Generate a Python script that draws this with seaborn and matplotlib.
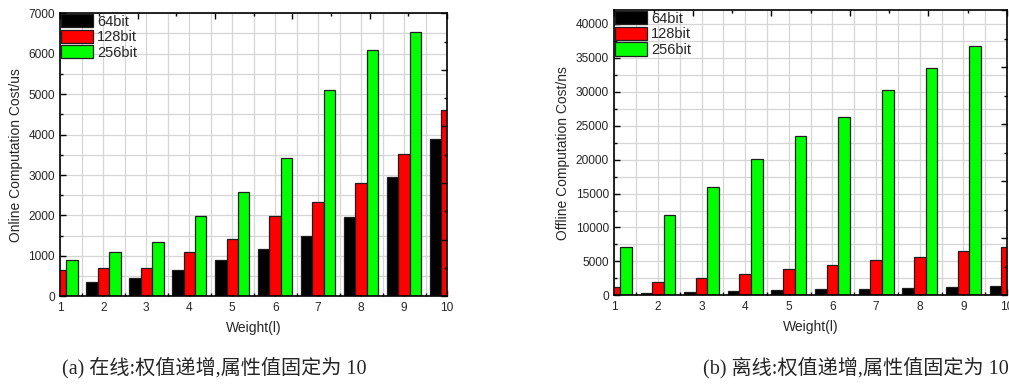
import numpy as np
import pandas as pd
import matplotlib
matplotlib.use('Agg')
import matplotlib.pyplot as plt
from matplotlib.patches import Patch
from matplotlib.ticker import MultipleLocator
import seaborn as sns

# ── data ──────────────────────────────────────────────────
weights = [1, 2, 3, 4, 5, 6, 7, 8, 9, 10]
bit_labels = ['64bit', '128bit', '256bit']

online_64 = [250, 350, 450, 650, 900, 1170, 1490, 1960, 2950, 3900]
online_128 = [640, 690, 700, 1100, 1410, 1980, 2320, 2800, 3530, 4600]
online_256 = [890, 1090, 1350, 1990, 2580, 3420, 5100, 6090, 6540, 7300]

offline_64 = [200, 350, 490, 640, 790, 890, 985, 1130, 1280, 1430]
offline_128 = [1280, 1970, 2610, 3200, 3940, 4480, 5170, 5710, 6500, 7090]
offline_256 = [7140, 11810, 15900, 20130, 23430, 26280, 30220, 33560, 36760, 40000]

captions = ['(a) 在线:权值递增,属性值固定为 10', '(b) 离线:权值递增,属性值固定为 10']

COLORS = ['#000000', '#ff0000', '#00ff00']


def long_frame(series):
    rows = []
    for lab, vals in zip(bit_labels, series):
        for w, v in zip(weights, vals):
            rows.append({'weight': w, 'cost': v, 'bits': lab})
    return pd.DataFrame(rows)


sns.set_style('white')
plt.rcParams['font.family'] = ['Liberation Sans', 'DejaVu Sans']

fig = plt.figure(figsize=(10.09, 3.85), dpi=100)
ax1 = fig.add_axes([0.0599, 0.2304, 0.3831, 0.7351])
ax2 = fig.add_axes([0.6089, 0.2330, 0.3891, 0.7400])

panels = [
    (ax1, [online_64, online_128, online_256], 7000, 1000, 500, 'Online Computation Cost/us'),
    (ax2, [offline_64, offline_128, offline_256], 42000, 5000, 2500, 'Offline Computation Cost/ns'),
]

for ax, series, ytop, ymaj, ymin, ylab in panels:
    df = long_frame(series)
    sns.barplot(data=df, x='weight', y='cost', hue='bits', native_scale=True,
                palette=COLORS, hue_order=bit_labels, edgecolor='#1e1e1e',
                linewidth=0.9, saturation=1, ax=ax, legend=False, errorbar=None)
    ax.set_xlim(1, 10)
    ax.set_ylim(0, ytop)
    ax.xaxis.set_major_locator(MultipleLocator(1))
    ax.xaxis.set_minor_locator(MultipleLocator(0.5))
    ax.yaxis.set_major_locator(MultipleLocator(ymaj))
    ax.yaxis.set_minor_locator(MultipleLocator(ymin))
    ax.grid(which='both', color='#d6d6d6', linewidth=0.9)
    ax.set_axisbelow(True)
    ax.tick_params(which='both', direction='in', top=False, right=False,
                   labelsize=8.6, pad=4, color='black')
    ax.tick_params(which='major', length=4, width=1)
    ax.tick_params(which='minor', length=2.5, width=1)
    for sp in ax.spines.values():
        sp.set_color('black')
        sp.set_linewidth(1.2)
    ax.set_xlabel('Weight(l)', fontsize=10, labelpad=5)
    ax.set_ylabel(ylab, fontsize=10, labelpad=4)

    handles = [Patch(facecolor=c, edgecolor='#1e1e1e', linewidth=0.9) for c in COLORS]
    ax.legend(handles, bit_labels, loc='upper left', frameon=False, fontsize=10.5,
              borderaxespad=0, borderpad=0.05, handlelength=2.2, handleheight=1.0,
              labelspacing=0.08, handletextpad=0.25)

    # opposite axes: Origin-style 0..10 ticks, no labels
    tr = ax.twinx()
    tr.set_ylim(0, 10)
    tr.yaxis.set_major_locator(MultipleLocator(2))
    tr.yaxis.set_minor_locator(MultipleLocator(1))
    tr.tick_params(which='both', direction='in', right=True, left=False,
                   labelright=False, color='black', width=1)
    tr.tick_params(which='major', length=4)
    tr.tick_params(which='minor', length=2.5)
    tr.grid(False)
    tt = ax.twiny()
    tt.set_xlim(0, 10)
    tt.xaxis.set_major_locator(MultipleLocator(2))
    tt.xaxis.set_minor_locator(MultipleLocator(1))
    tt.tick_params(which='both', direction='in', top=True, bottom=False,
                   labeltop=False, color='black', width=1)
    tt.tick_params(which='major', length=4)
    tt.tick_params(which='minor', length=2.5)
    tt.grid(False)
    for t in (tr, tt):
        for sp in t.spines.values():
            sp.set_visible(False)

for xc, txt in zip([0.212, 0.848], captions):
    fig.text(xc, 0.044, txt, ha='center', va='center', fontsize=14.5,
             family=['Liberation Serif', 'Noto Sans CJK SC'])

fig.savefig('out.png', dpi=100, facecolor='white')
